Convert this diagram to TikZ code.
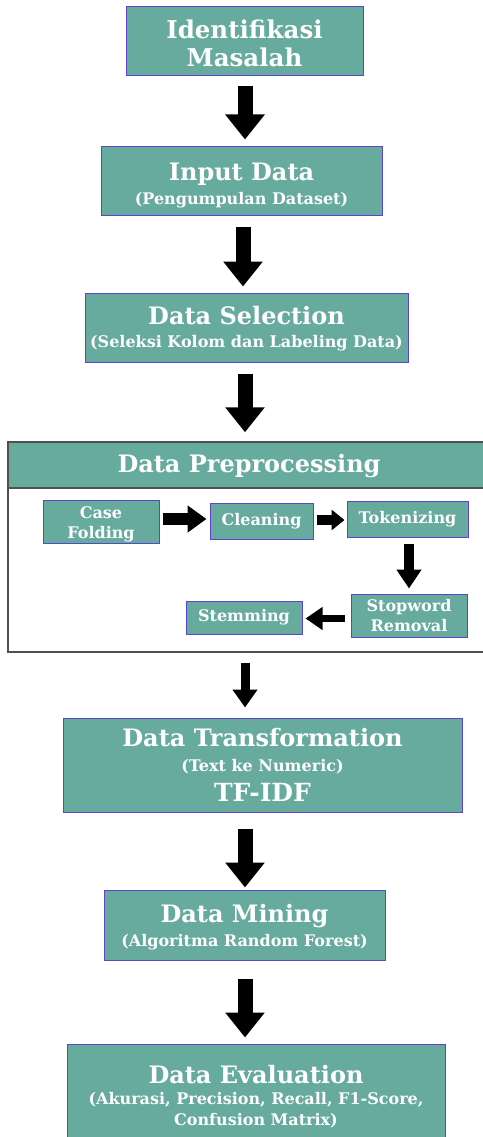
\documentclass[tikz,border=0pt]{standalone}
\usepackage{fontspec}
\setmainfont{DejaVu Serif}
\usetikzlibrary{arrows.meta}
\definecolor{teal1}{HTML}{66AB9D}
\definecolor{bord}{HTML}{5B44D0}
\definecolor{frameg}{HTML}{505050}
\newcommand{\sfontx}{\fontsize{16}{18}\selectfont}
\newcommand{\lift}[1]{\rule{0pt}{#1pt}}
\tikzset{
  box/.style={draw=bord, line width=1pt, fill=teal1, text=white, align=center, inner sep=0pt},
  tbox/.style={box, font=\fontsize{24}{24}\selectfont\bfseries},
  pbox/.style={box, font=\fontsize{16}{20}\selectfont\bfseries},
  bigarrow/.style={line width=15pt, -{Triangle[width=38pt,length=25pt]}},
  midarrow/.style={line width=12pt, -{Triangle[width=26pt,length=19pt]}},
  smallarrow/.style={line width=10pt, -{Triangle[width=20pt,length=13pt]}},
}
\begin{document}
\begin{tikzpicture}[x=1pt,y=-1pt]
\useasboundingbox (0,0) rectangle (482,1137);
% main boxes
\node[box, minimum width=237pt, minimum height=69pt, font=\fontsize{24.5}{28}\selectfont\bfseries] (b1) at (244.5,41.5)
  {\lift{22}Identifikasi\\Masalah};
\node[tbox, minimum width=281pt, minimum height=69pt] (b2) at (241.5,180.5)
  {\lift{28}Input Data\\{\sfontx (Pengumpulan Dataset)}};
\node[tbox, minimum width=323pt, minimum height=69pt] (b3) at (246.5,327.5)
  {\lift{20}Data Selection\\[-1pt]{\sfontx (Seleksi Kolom dan Labeling Data)}};
% preprocessing frame
\node[draw=frameg, line width=1.5pt, minimum width=482pt, minimum height=210pt, inner sep=0pt] (pre) at (249,547) {};
\node[draw=frameg, line width=1.5pt, fill=teal1, text=white, minimum width=482pt, minimum height=46pt, inner sep=0pt, font=\fontsize{24}{26}\selectfont\bfseries] (preh) at (249,465) {\lift{21}Data Preprocessing};
\node[pbox, minimum width=116pt, minimum height=43pt] (cf) at (101,521.5) {\lift{18}Case\\Folding};
\node[pbox, minimum width=103pt, minimum height=36pt] (cl) at (261.5,521) {Cleaning};
\node[pbox, minimum width=121pt, minimum height=36pt] (tok) at (407.5,519) {Tokenizing};
\node[pbox, minimum width=116pt, minimum height=43pt] (sw) at (409,615.5) {Stopword\\Removal};
\node[pbox, minimum width=116pt, minimum height=33pt] (st) at (244,617.5) {Stemming};
% lower boxes
\node[box, minimum width=399pt, minimum height=94pt, font=\fontsize{24}{26}\selectfont\bfseries] (b4) at (262.5,765)
  {Data Transformation\\[-1pt]{\sfontx (Text ke Numeric)}\\[4pt]{\fontsize{25}{26}\selectfont TF-IDF}};
\node[tbox, minimum width=281pt, minimum height=70pt] (b5) at (244.5,925)
  {\lift{23}Data Mining\\{\sfontx (Algoritma Random Forest)}};
\node[box, minimum width=378pt, minimum height=95pt, font=\fontsize{24}{21}\selectfont\bfseries] (b6) at (256,1091.5)
  {\lift{28}Data Evaluation\\{\sfontx (Akurasi, Precision, Recall, F1-Score,}\\[0pt]{\sfontx Confusion Matrix)}};
% arrows
\draw[bigarrow, shorten <=10pt, shorten >=6pt] (b1.south -| 245,0) -- (b2.north -| 245,0);
\draw[bigarrow, shorten <=11pt, shorten >=6pt] (b2.south -| 243,0) -- (b3.north -| 243,0);
\draw[bigarrow, shorten <=11pt, shorten >=9pt] (b3.south -| 245,0) -- (preh.north -| 245,0);
\draw[line width=9pt, -{Triangle[width=24pt,length=18pt]}, shorten <=10pt, shorten >=10pt] (pre.south -| 245,0) -- (b4.north -| 245,0);
\draw[bigarrow, shorten <=16pt, shorten >=2pt] (b4.south -| 245,0) -- (b5.north -| 245,0);
\draw[bigarrow, shorten <=18pt, shorten >=6pt] (b5.south -| 245,0) -- (b6.north -| 245,0);
\draw[midarrow, shorten <=3pt, shorten >=3pt] (cf.east |- 0,519) -- (cl.west |- 0,519);
\draw[smallarrow, shorten <=3pt, shorten >=2pt] (cl.east |- 0,520) -- (tok.west |- 0,520);
\draw[line width=10pt, -{Triangle[width=24pt,length=19pt]}, shorten <=6pt, shorten >=5pt] (sw.north |- tok.south) -- (sw.north);
\draw[line width=7.5pt, -{Triangle[width=22pt,length=17pt]}, shorten <=6pt, shorten >=3pt] (sw.west |- 0,618.5) -- (st.east |- 0,618.5);
\end{tikzpicture}
\end{document}
